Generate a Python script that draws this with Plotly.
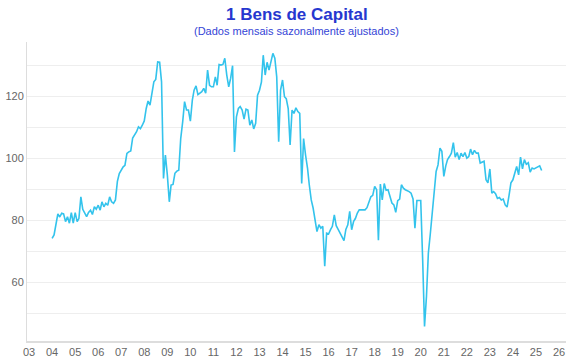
import pandas as pd
import plotly.graph_objects as go

# Monthly index values, starting January 2004
start_month = "2004-01-01"
values_2004 = [74.1, 75.2, 78.5, 82.0, 81.0, 82.2, 82.0, 79.5, 81.1, 79.0, 82.4, 79.0]
values_2005 = [82.4, 79.5, 80.5, 87.5, 83.5, 82.2, 81.1, 82.5, 83.2, 81.8, 84.3, 83.5]
values_2006 = [84.8, 83.2, 85.9, 84.3, 85.4, 84.8, 87.5, 85.9, 85.4, 86.5, 92.5, 95.0]
values_2007 = [96.1, 97.2, 97.7, 101.5, 102.0, 102.3, 106.5, 107.6, 108.5, 110.1, 109.5, 110.6]
values_2008 = [112.0, 116.0, 118.4, 117.1, 121.4, 124.6, 125.4, 131.0, 130.9, 124.6, 93.4, 101.0]
values_2009 = [94.5, 85.9, 91.3, 91.5, 95.1, 95.8, 96.1, 106.3, 111.7, 118.2, 115.5, 115.5]
values_2010 = [111.9, 118.7, 121.9, 123.3, 120.5, 120.9, 121.4, 122.5, 120.9, 128.4, 123.5, 123.0]
values_2011 = [123.0, 126.2, 123.5, 130.2, 130.0, 130.2, 132.2, 126.8, 123.0, 125.7, 129.8, 102.0]
values_2012 = [113.3, 116.0, 116.6, 115.5, 112.6, 115.8, 115.5, 110.6, 112.3, 109.4, 111.2, 120.3]
values_2013 = [121.9, 124.6, 133.2, 126.8, 130.9, 128.4, 131.6, 133.8, 132.2, 126.2, 105.3, 121.9]
values_2014 = [125.2, 119.8, 119.2, 116.0, 104.2, 115.5, 114.4, 116.2, 115.0, 114.4, 91.8, 106.3]
values_2015 = [101.0, 96.8, 91.4, 86.5, 83.9, 80.5, 76.3, 78.5, 77.4, 78.0, 65.1, 75.8]
values_2016 = [75.5, 76.9, 78.0, 81.7, 78.2, 77.0, 75.8, 75.0, 73.4, 77.0, 78.5, 82.8]
values_2017 = [76.9, 79.6, 80.5, 82.3, 83.3, 83.3, 83.3, 83.3, 84.0, 86.0, 87.5, 88.0]
values_2018 = [90.9, 89.8, 73.5, 91.6, 86.5, 91.8, 89.6, 89.8, 87.6, 85.5, 84.9, 82.5]
values_2019 = [86.3, 86.8, 91.4, 90.3, 89.8, 89.6, 89.2, 88.7, 86.8, 77.4, 86.3, 86.3]
values_2020 = [86.3, 67.0, 45.7, 55.4, 69.4, 75.6, 82.3, 88.7, 95.7, 97.8, 103.2, 102.2]
values_2021 = [94.1, 97.5, 99.5, 100.5, 101.6, 105.0, 100.3, 101.8, 99.5, 101.6, 100.5, 101.8]
values_2022 = [100.0, 100.5, 102.9, 101.1, 102.5, 101.6, 101.6, 98.4, 98.6, 99.0, 93.0, 92.0]
values_2023 = [96.5, 88.7, 89.2, 88.5, 87.0, 87.3, 86.5, 86.8, 84.9, 84.2, 88.0, 92.0]
values_2024 = [93.0, 95.5, 97.3, 94.6, 100.3, 96.5, 99.5, 98.0, 98.5, 95.5, 96.8, 96.5]
values_2025 = [96.8, 97.3, 97.5, 96.0]

values = (values_2004 + values_2005 + values_2006 + values_2007 + values_2008 + values_2009
          + values_2010 + values_2011 + values_2012 + values_2013 + values_2014 + values_2015
          + values_2016 + values_2017 + values_2018 + values_2019 + values_2020 + values_2021
          + values_2022 + values_2023 + values_2024 + values_2025)

tick_years = list(range(2003, 2027))
tick_labels = [f"{y % 100:02d}" for y in tick_years]
y_tick_values = [60, 80, 100, 120]

title_text = "1 Bens de Capital"
subtitle_text = "(Dados mensais sazonalmente ajustados)"

dates = pd.date_range(start_month, periods=len(values), freq="MS")
tick_dates = [pd.Timestamp(year=y, month=1, day=1) for y in tick_years]

fig = go.Figure()
fig.add_trace(go.Scatter(
    x=dates, y=values, mode="lines",
    line=dict(color="#33c3ec", width=1.6),
    hoverinfo="x+y", showlegend=False,
))

font_family = "Liberation Sans, Arial, Helvetica, sans-serif"

fig.update_layout(
    width=570, height=360,
    margin=dict(l=27, r=4, t=42, b=19, autoexpand=False),
    paper_bgcolor="white", plot_bgcolor="white",
    font=dict(family=font_family, size=11, color="#666666"),
    xaxis=dict(
        type="date",
        range=["2002-11-29", "2026-04-22"],
        tickmode="array", tickvals=tick_dates, ticktext=tick_labels,
        showgrid=False, zeroline=False, automargin=False,
        showline=True, linecolor="#dddddd", linewidth=2,
        ticks="", tickfont=dict(size=11, color="#666666"),
        fixedrange=True,
    ),
    yaxis=dict(
        range=[41, 137.45], automargin=False,
        tickmode="array", tickvals=y_tick_values,
        showgrid=True, gridcolor="#eeeeee", gridwidth=1,
        minor=dict(tickmode="linear", tick0=0, dtick=10, showgrid=True,
                   gridcolor="#eeeeee", gridwidth=1, ticks=""),
        zeroline=False,
        showline=True, linecolor="#dddddd", linewidth=1,
        ticks="", tickfont=dict(size=11, color="#666666"),
        fixedrange=True,
    ),
    annotations=[
        dict(text=f"<b>{title_text}</b>", xref="paper", yref="paper",
             x=0.5, y=1 + (42 - 14) / 299, xanchor="center", yanchor="middle",
             showarrow=False, font=dict(family=font_family, size=17, color="#2637cf")),
        dict(text=subtitle_text, xref="paper", yref="paper",
             x=0.5, y=1 + (42 - 31) / 299, xanchor="center", yanchor="middle",
             showarrow=False, font=dict(family=font_family, size=11, color="#3444d6")),
    ],
)

fig.write_html(
    "out.html",
    config={"displayModeBar": False},
    post_script="document.body.style.margin='0';document.body.style.overflow='hidden';",
)
